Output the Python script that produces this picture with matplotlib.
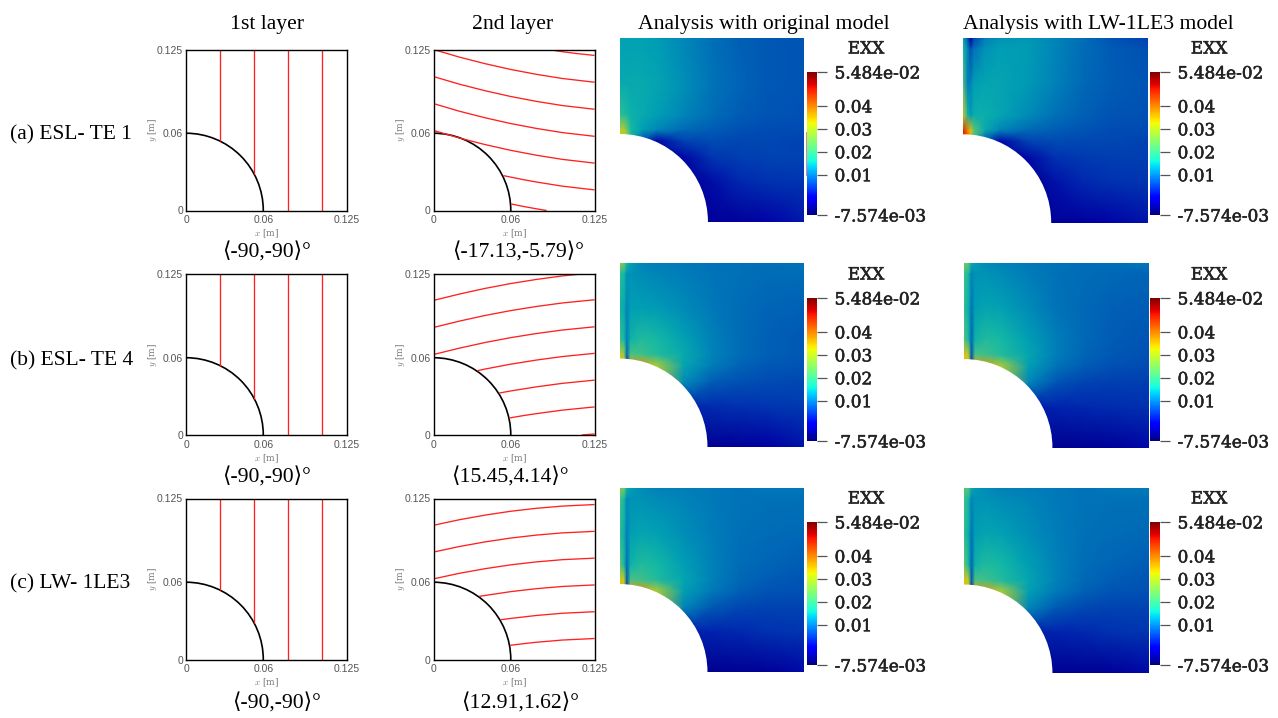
import matplotlib
matplotlib.use('Agg')
import matplotlib.pyplot as plt
import matplotlib.patheffects as pe
from matplotlib.colors import LinearSegmentedColormap, Normalize
from matplotlib.cm import ScalarMappable
from matplotlib.lines import Line2D
from matplotlib.patches import Circle
import numpy as np

W, H = 1278, 718

row_names = ['(a) ESL- TE 1', '(b) ESL- TE 4', '(c) LW- 1LE3']
col_titles = ['1st layer', '2nd layer', 'Analysis with original model', 'Analysis with LW-1LE3 model']
first_layer_labels = ['\u27e8-90,-90\u27e9\u00b0', '\u27e8-90,-90\u27e9\u00b0', '\u27e8-90,-90\u27e9\u00b0']
second_layer_labels = ['\u27e8-17.13,-5.79\u27e9\u00b0', '\u27e815.45,4.14\u27e9\u00b0', '\u27e812.91,1.62\u27e9\u00b0']

plate_ticks = [0, 0.06, 0.125]
plate_tick_labels = ['0', '0.06', '0.125']
hole_radius = 0.06

# 1st layer fibres, same in all three rows
first_x = [0.0266, 0.0527, 0.0790, 0.1053]
first_y0 = [0.0537, 0.0282, 0.0, 0.0]

# 2nd layer fibres
full_x = [0, 0.02, 0.04, 0.06, 0.08, 0.10, 0.125]
second_a_x = [
    [0.0897, 0.100, 0.110, 0.125],
    full_x,
    full_x,
    full_x,
    full_x,
    [0.0542, 0.07, 0.08, 0.10, 0.125],
    [0.0602, 0.07, 0.08, 0.0878],
]
second_a_y = [
    [0.1249, 0.1233, 0.1220, 0.1204],
    [0.125, 0.1191, 0.1140, 0.1095, 0.1057, 0.1025, 0.0996],
    [0.1040, 0.0981, 0.0930, 0.0885, 0.0847, 0.0815, 0.0786],
    [0.0830, 0.0771, 0.0720, 0.0675, 0.0637, 0.0605, 0.0576],
    [0.0622, 0.0563, 0.0512, 0.0467, 0.0429, 0.0397, 0.0368],
    [0.0271, 0.0239, 0.0221, 0.0189, 0.0160],
    [0.0051, 0.0031, 0.0013, 0.0],
]
second_b_x = [
    [0, 0.02, 0.04, 0.06, 0.08, 0.10, 0.1151],
    full_x,
    full_x,
    [0.034, 0.04, 0.06, 0.08, 0.10, 0.125],
    [0.0511, 0.06, 0.08, 0.10, 0.125],
    [0.0589, 0.07, 0.08, 0.10, 0.125],
    [0.1151, 0.125],
]
second_b_y = [
    [0.1045, 0.1094, 0.1138, 0.1176, 0.1208, 0.1235, 0.125],
    [0.0835, 0.0884, 0.0928, 0.0966, 0.0998, 0.1025, 0.105],
    [0.0625, 0.0674, 0.0718, 0.0756, 0.0788, 0.0815, 0.0840],
    [0.0499, 0.0512, 0.0550, 0.0582, 0.0609, 0.0634],
    [0.0326, 0.0342, 0.0374, 0.0401, 0.0426],
    [0.0132, 0.0151, 0.0166, 0.0193, 0.0218],
    [0.0, 0.0008],
]
second_c_x = [
    full_x,
    full_x,
    full_x,
    [0.0355, 0.04, 0.06, 0.08, 0.10, 0.125],
    [0.0524, 0.06, 0.08, 0.10, 0.125],
    [0.0594, 0.07, 0.08, 0.10, 0.125],
]
second_c_y = [
    [0.1042, 0.1085, 0.1121, 0.1151, 0.1174, 0.1191, 0.1203],
    [0.0834, 0.0877, 0.0913, 0.0943, 0.0966, 0.0983, 0.0995],
    [0.0626, 0.0669, 0.0705, 0.0735, 0.0758, 0.0775, 0.0787],
    [0.0490, 0.0497, 0.0527, 0.0550, 0.0567, 0.0579],
    [0.0309, 0.0319, 0.0342, 0.0359, 0.0371],
    [0.0110, 0.0123, 0.0134, 0.0151, 0.0163],
]

# EXX fields in units of 1e-3, sampled on the picture at these plate fractions
field_x = [0, 0.025, 0.04, 0.06, 0.12, 0.2, 0.35, 0.5, 0.65, 0.8, 1]
field_y = [0, 0.06, 0.25, 0.42, 0.50, 0.56, 0.65, 0.78, 1]   # from the top

orig_a = [
    [15.5, 15.5, 15.5, 15.5, 15.5, 14.5, 11.5, 8.5, 6.5, 5.5, 5],
    [15.5, 15.5, 15.5, 15.5, 15.5, 15, 11.5, 8.5, 6.5, 5.5, 5],
    [17, 17, 17, 17, 17, 16, 12.5, 9, 7, 5.5, 5],
    [22, 21, 20, 18.5, 17, 15, 11, 8, 6, 5, 4.5],
    [30, 29, 26, 20, 15, 11, 7.5, 6, 4.5, 4, 4],
    [30, 30, 29, 20, 5, -3, 3, 4, 3.5, 3.5, 3],
    [30, 30, 25, 10, 0, -5, -3, 1.5, 2.5, 3, 3],
    [10, 10, 5, 0, -4, -6, -6, -2.5, 0, 1, 1.5],
    [-6, -6, -6, -6, -6, -6, -6, -5, -5, -3.5, -1.5],
]
lw_a = [
    [18, 5, -5, 3, 10, 13, 14, 11, 8, 5, 3],
    [20, 12, 4, 9, 13, 15, 14.5, 11, 8, 6, 4.5],
    [25, 10, 11, 15, 16, 16, 14, 10.5, 7.5, 6, 5],
    [32, 20, 14, 18, 18, 16, 12, 8.5, 6.5, 5, 4.5],
    [48, 40, 35, 25, 17, 11, 7.5, 6, 5, 4, 4],
    [50, 45, 38, 25, 5, -3, 3, 4, 3.5, 3.5, 3],
    [40, 40, 30, 10, 0, -5, -3, 1, 2, 2.5, 2.5],
    [10, 10, 5, 0, -4, -6, -6, -2, 0, 1, 1.5],
    [-6, -6, -6, -6, -6, -6, -6, -5, -4.5, -3.5, -2],
]
orig_b = [
    [28, 27, 20, 15, 11, 10, 9.5, 9, 8.5, 8.5, 9],
    [22, 20, 13, 13, 12, 11, 10, 9, 8.5, 8, 8],
    [19, 17, 11, 15, 15, 14.5, 12, 9.5, 8, 7, 6.5],
    [23, 20, 10, 19, 21, 20, 15.5, 10.5, 8, 6.5, 5.5],
    [32, 28, 8, 24, 23, 21, 17, 11, 8, 6.5, 5.5],
    [34, 30, 3, 38, 38, 29, 16, 10, 7, 5.5, 5],
    [34, 30, 3, 38, 38, 32, 12, 6, 4.5, 4, 3.5],
    [10, 10, 10, 10, 10, 8, -0.5, 0.5, 1, 1.5, 2],
    [-6, -6, -6, -6, -6, -6, -6, -5.5, -5, -4, -2],
]
lw_b = [
    [27, 26, 18, 15, 12, 10.5, 9.5, 9, 8, 8.5, 9.5],
    [23, 20, 11, 13, 13, 12, 10, 8.5, 8, 7.5, 7],
    [22, 18, 9, 15, 16, 15.5, 12, 9, 7.5, 6.5, 6],
    [25, 20, 7, 19, 21, 20, 15, 10, 7.5, 6, 5],
    [34, 30, 5, 24, 23, 21, 16, 10, 7, 5.5, 4.5],
    [36, 32, 2, 38, 38, 29, 15, 9, 6, 4.5, 4],
    [34, 30, 2, 38, 38, 32, 11, 5, 3, 2.5, 2.5],
    [10, 10, 10, 10, 10, 8, -1, -0.5, 0, 0.5, 1],
    [-6, -6, -6, -6, -6, -6, -6, -6, -5.5, -5, -3],
]
orig_c = [
    [27, 27, 19, 15, 12, 10.5, 10, 9.5, 9, 9.5, 9.5],
    [24, 20, 12, 13, 13, 12, 11, 9.5, 9, 8.5, 8.5],
    [22, 18, 10, 15, 16, 15.5, 12.5, 10, 8.5, 8, 7.5],
    [26, 20, 8, 19, 21, 20, 15, 10.5, 8, 7, 6],
    [34, 30, 6, 24, 23, 21, 16, 10.5, 7.5, 6, 5],
    [36, 32, 2, 38, 38, 29, 15, 9.5, 6.5, 5, 4.5],
    [34, 30, 2, 38, 38, 32, 11, 5.5, 3.5, 3, 3],
    [10, 10, 10, 10, 10, 8, -1, -0.5, 0, 1, 1.5],
    [-6, -6, -6, -6, -6, -6, -6, -6, -5.5, -5, -3],
]
lw_c = [
    [25, 25, 18, 14, 12, 10.5, 10, 9.5, 9, 9.5, 10],
    [23, 20, 11, 13, 13, 12, 11, 9.5, 9, 8.5, 8.5],
    [22, 18, 9, 15, 16, 15.5, 12.5, 10, 8.5, 8, 7.5],
    [26, 20, 7, 19, 21, 20, 15, 10.5, 8, 7, 6],
    [34, 30, 5, 24, 23, 21, 16, 10.5, 7.5, 6, 5],
    [36, 32, 2, 38, 38, 29, 15, 9.5, 6.5, 5, 4.5],
    [34, 30, 2, 38, 38, 32, 11, 5.5, 3.5, 3, 3],
    [10, 10, 10, 10, 10, 8, -1, -0.5, 0, 1, 1.5],
    [-6, -6, -6, -6, -6, -6, -6, -6, -5.5, -5, -3],
]

exx_min = -7.574e-3
exx_max = 5.484e-2
bar_ticks = [exx_min, 0.01, 0.02, 0.03, 0.04, exx_max]
bar_labels = ['-7.574e-03', '0.01', '0.02', '0.03', '0.04', '5.484e-02']

# the rendered meshes are duller than the colour bars
mesh_stops = [(-7.6, '#000082'), (-4, '#0000a5'), (0, '#0028af'), (5, '#0055b4'), (10, '#007db9'),
              (15, '#00a0b4'), (20, '#14b9a5'), (25, '#5ac378'), (30, '#becd28'), (35, '#ebbe00'),
              (42, '#f06e00'), (50, '#c81400'), (54.84, '#820000')]
mesh_cmap = LinearSegmentedColormap.from_list(
    'mesh', [((v + 7.6) / (54.84 + 7.6), c) for v, c in mesh_stops])


def px_axes(left, top, right, bottom):
    return fig.add_axes([left / W, 1 - bottom / H, (right - left) / W, (bottom - top) / H])


def text_px(x, y, s, **kw):
    fig.text(x / W, 1 - y / H, s, va='center', **kw)


def draw_plate(left, top, xs, ys):
    ax = px_axes(left, top, left + 161, top + 161)
    for x, y in zip(xs, ys):
        ax.plot(x, y, color='#ff2020', lw=0.95, solid_capstyle='butt')
    ax.add_patch(Circle((0, 0), hole_radius, fill=False, ec='black', lw=1.2))
    ax.set_xlim(0, 0.125)
    ax.set_ylim(0, 0.125)
    ax.set_xticks(plate_ticks)
    ax.set_xticklabels(plate_tick_labels)
    ax.set_yticks(plate_ticks)
    ax.set_yticklabels(plate_tick_labels)
    ax.tick_params(length=0, labelsize=7.5, labelcolor='#555555')
    ax.tick_params(axis='x', pad=3.5)
    ax.tick_params(axis='y', pad=2)
    for lab in ax.get_xticklabels() + ax.get_yticklabels():
        lab.set_family('Liberation Sans')
    ax.set_xlabel('$x$ [m]', fontsize=6.5, color='#777777', labelpad=1.8, family='DejaVu Serif')
    ax.set_ylabel('$y$ [m]', fontsize=6.5, color='#777777', labelpad=-1.5, family='DejaVu Serif')
    for s in ax.spines.values():
        s.set_linewidth(1.0)


def draw_field(left, top, size, table, bar_left, bar_top):
    ax = px_axes(left, top, left + size, top + size)
    fx, fy = np.meshgrid(field_x, 1 - np.array(field_y))
    ax.pcolormesh(fx, fy, np.array(table), cmap=mesh_cmap, vmin=-7.574, vmax=54.84, shading='gouraud')
    ax.add_patch(Circle((0, 0), 0.478, fc='white', ec='none', zorder=3))
    ax.set_xlim(0, 1)
    ax.set_ylim(0, 1)
    ax.axis('off')

    cax = px_axes(bar_left, bar_top, bar_left + 9.5, bar_top + 143)
    cb = fig.colorbar(ScalarMappable(Normalize(exx_min, exx_max), 'jet'), cax=cax, ticks=bar_ticks)
    cb.outline.set_visible(False)
    cax.set_yticklabels(bar_labels)
    cax.tick_params(length=7.5, width=0.9, color='#555555', pad=5.5)
    for lab in cax.get_yticklabels():
        lab.set_family('DejaVu Serif')
        lab.set_fontsize(12.2)
        lab.set_color('#222222')
        lab.set_path_effects([pe.withStroke(linewidth=0.4, foreground='#222222')])
    ticks = cax.yaxis.get_major_ticks()
    ticks[0].tick2line.set_color('#999999')
    ticks[-1].tick2line.set_color('#999999')
    text_px(bar_left + 59, bar_top - 23, 'EXX', ha='center', family='DejaVu Serif', fontsize=12.2, color='#222222',
            path_effects=[pe.withStroke(linewidth=0.4, foreground='#222222')])


plt.rcParams['font.family'] = ['Liberation Serif', 'DejaVu Serif']
plt.rcParams['mathtext.fontset'] = 'cm'

fig = plt.figure(figsize=(W / 100, H / 100), dpi=100)

plate_tops = [49.5, 274, 498.5]
second_x = [second_a_x, second_b_x, second_c_x]
second_y = [second_a_y, second_b_y, second_c_y]
first_xs = [[x, x] for x in first_x]
first_ys = [[y, 0.125] for y in first_y0]
for i in range(3):
    draw_plate(186, plate_tops[i], first_xs, first_ys)
    draw_plate(433.5, plate_tops[i], second_x[i], second_y[i])

draw_field(620, 38, 184, orig_a, 807, 72)
draw_field(963, 38, 184.5, lw_a, 1150, 72)
draw_field(619.5, 262.5, 184, orig_b, 807, 298)
draw_field(964, 262.5, 185, lw_b, 1150, 298)
draw_field(619.5, 488, 184, orig_c, 807, 522)
draw_field(964, 488, 185, lw_c, 1150, 522)

# thin leftover sliver next to the first colour bar
fig.add_artist(Line2D([806 / W, 806 / W], [1 - 132 / H, 1 - 175 / H], color='#e0205a', lw=0.7, alpha=0.6))

title_x = [267, 513, 764, 1098]
for x, s in zip(title_x, col_titles):
    text_px(x, 24, s, ha='center', fontsize=15.6, color='black')

row_y = [135, 361, 584]
for y, s in zip(row_y, row_names):
    text_px(10, y, s, ha='left', fontsize=15.5, color='black')

under_y = [253, 478, 704]
under_x1 = [266, 266, 276]
under_x2 = [518, 510, 520]
for i in range(3):
    text_px(under_x1[i], under_y[i], first_layer_labels[i], ha='center', fontsize=15.6, color='black')
    text_px(under_x2[i], under_y[i], second_layer_labels[i], ha='center', fontsize=15.6, color='black')

fig.savefig('out.png', dpi=100)
